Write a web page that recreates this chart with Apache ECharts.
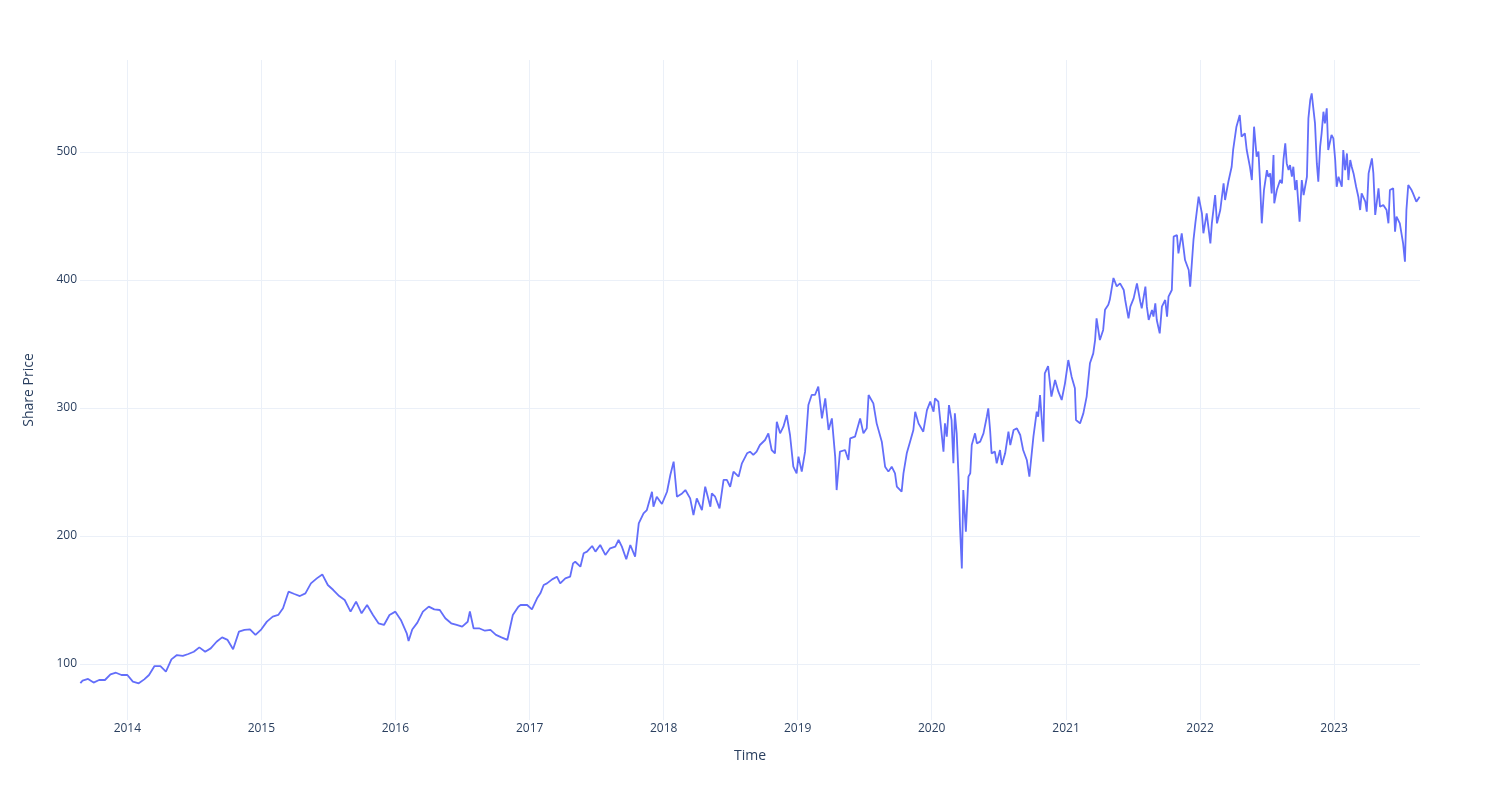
<!DOCTYPE html>
<html>
<head>
<meta charset="utf-8">
<script src="https://cdn.jsdelivr.net/npm/echarts@6/dist/echarts.min.js"></script>
<style>
  html, body { margin: 0; padding: 0; background: #ffffff; }
  #chart { width: 1500px; height: 800px; }
</style>
</head>
<body>
<div id="chart"></div>
<script>
// ---- data ----
const dates = [
  '2013-08-26','2013-09-01','2013-09-16','2013-10-01','2013-10-16','2013-11-01','2013-11-16','2013-12-01','2013-12-16',
  '2014-01-01','2014-01-16','2014-02-01','2014-02-16','2014-03-01','2014-03-16','2014-04-01','2014-04-16','2014-05-01','2014-05-16','2014-06-01','2014-06-16',
  '2014-07-01','2014-07-16','2014-08-01','2014-08-16','2014-09-01','2014-09-16','2014-10-01','2014-10-16','2014-11-01','2014-11-16','2014-12-01','2014-12-16',
  '2015-01-01','2015-01-16','2015-02-01','2015-02-16','2015-03-01','2015-03-16','2015-04-01','2015-04-16','2015-05-01','2015-05-16','2015-06-01','2015-06-16',
  '2015-07-01','2015-07-16','2015-08-01','2015-08-16','2015-09-01','2015-09-16','2015-10-01','2015-10-16','2015-11-01','2015-11-16','2015-12-01','2015-12-16',
  '2016-01-01','2016-01-16','2016-02-01','2016-02-06','2016-02-16','2016-03-01','2016-03-16','2016-04-01','2016-04-16','2016-05-01','2016-05-16','2016-06-01','2016-06-16',
  '2016-07-01','2016-07-16','2016-07-22','2016-08-01','2016-08-16','2016-09-01','2016-09-16','2016-10-01','2016-10-16','2016-11-01','2016-11-16','2016-12-01',
  '2016-12-07','2016-12-25','2017-01-07','2017-01-21','2017-01-30','2017-02-08','2017-02-17','2017-03-03',
  '2017-03-16','2017-03-25','2017-04-08','2017-04-21','2017-04-29','2017-05-05','2017-05-19','2017-05-28',
  '2017-06-06','2017-06-20','2017-06-29','2017-07-12','2017-07-26','2017-08-08','2017-08-22','2017-08-31',
  '2017-09-09','2017-09-21','2017-10-02','2017-10-15','2017-10-25','2017-11-07','2017-11-16','2017-11-30',
  '2017-12-04','2017-12-13','2017-12-27','2018-01-10','2018-01-19','2018-01-28','2018-02-06','2018-02-20',
  '2018-03-01','2018-03-14','2018-03-23','2018-04-01','2018-04-15','2018-04-24','2018-05-08','2018-05-12',
  '2018-05-21','2018-06-02','2018-06-13','2018-06-22','2018-07-01','2018-07-10','2018-07-24','2018-08-02',
  '2018-08-16',
  '2018-08-24','2018-09-02','2018-09-11','2018-09-20','2018-10-04','2018-10-13','2018-10-22','2018-10-31',
  '2018-11-05','2018-11-14','2018-11-23','2018-12-02','2018-12-11','2018-12-20','2018-12-29','2019-01-03',
  '2019-01-12','2019-01-21','2019-01-30','2019-02-08','2019-02-17','2019-02-26','2019-03-08','2019-03-17',
  '2019-03-26','2019-04-04','2019-04-13','2019-04-17','2019-04-26','2019-05-10','2019-05-19','2019-05-24',
  '2019-06-06','2019-06-20','2019-06-29','2019-07-08','2019-07-13','2019-07-26','2019-08-04','2019-08-18',
  '2019-08-27','2019-09-05','2019-09-14','2019-09-23','2019-09-28','2019-10-11','2019-10-16','2019-10-25',
  '2019-11-03','2019-11-12','2019-11-17','2019-11-26','2019-12-09','2019-12-19','2019-12-28','2020-01-06',
  '2020-01-10','2020-01-19',
  '2020-01-24','2020-02-02','2020-02-06','2020-02-11','2020-02-17','2020-02-24','2020-02-29','2020-03-04',
  '2020-03-09','2020-03-14','2020-03-18','2020-03-23','2020-03-27','2020-04-01','2020-04-03','2020-04-10',
  '2020-04-15','2020-04-19','2020-04-28','2020-05-03','2020-05-12','2020-05-21','2020-05-30','2020-06-03',
  '2020-06-08','2020-06-12','2020-06-21','2020-06-26','2020-07-05','2020-07-10','2020-07-19','2020-07-28',
  '2020-08-02','2020-08-11','2020-08-20','2020-08-29','2020-09-06','2020-09-16','2020-09-23','2020-10-04',
  '2020-10-13','2020-10-17','2020-10-22','2020-10-31','2020-11-04','2020-11-13','2020-11-22','2020-12-02',
  '2020-12-11','2020-12-20','2020-12-29','2021-01-07','2021-01-16','2021-01-25','2021-01-28','2021-02-08',
  '2021-02-17','2021-02-26','2021-03-07','2021-03-16','2021-03-21','2021-03-25','2021-04-03','2021-04-12',
  '2021-04-17','2021-04-26','2021-04-30','2021-05-10','2021-05-19',
  '2021-05-28','2021-06-07','2021-06-11','2021-06-20','2021-06-25','2021-07-04','2021-07-13','2021-07-22',
  '2021-07-26','2021-08-05','2021-08-09','2021-08-14','2021-08-23','2021-08-27','2021-09-01','2021-09-05',
  '2021-09-13','2021-09-19','2021-09-28','2021-10-03','2021-10-07','2021-10-16','2021-10-21','2021-10-30',
  '2021-11-03','2021-11-12','2021-11-21','2021-12-01','2021-12-05','2021-12-14','2021-12-19','2021-12-28',
  '2022-01-01','2022-01-06','2022-01-10','2022-01-19','2022-01-29','2022-02-02','2022-02-11','2022-02-16',
  '2022-02-25','2022-03-06','2022-03-10','2022-03-19','2022-03-28','2022-04-01','2022-04-10','2022-04-19',
  '2022-04-24','2022-05-03','2022-05-08','2022-05-17',
  '2022-05-22','2022-05-28','2022-06-04','2022-06-09','2022-06-13','2022-06-18','2022-06-24','2022-07-02',
  '2022-07-06','2022-07-11','2022-07-15','2022-07-20','2022-07-22','2022-07-29','2022-08-07','2022-08-12',
  '2022-08-16','2022-08-21','2022-08-25','2022-08-30','2022-09-03','2022-09-08','2022-09-12','2022-09-17',
  '2022-09-21','2022-09-29','2022-10-05','2022-10-10','2022-10-19','2022-10-23','2022-10-28','2022-11-01',
  '2022-11-06','2022-11-10','2022-11-15','2022-11-19','2022-11-24','2022-11-28','2022-12-03','2022-12-07',
  '2022-12-12','2022-12-16','2022-12-25','2022-12-30','2023-01-04','2023-01-08','2023-01-13','2023-01-17',
  '2023-01-22','2023-01-26','2023-01-31','2023-02-05','2023-02-09','2023-02-14','2023-02-18','2023-02-23',
  '2023-03-02','2023-03-08','2023-03-13','2023-03-17','2023-03-27','2023-03-31','2023-04-05','2023-04-14',
  '2023-04-18','2023-04-23','2023-05-02','2023-05-06','2023-05-15','2023-05-24','2023-05-29','2023-06-02',
  '2023-06-11','2023-06-16','2023-06-20','2023-06-29','2023-07-04','2023-07-08','2023-07-13','2023-07-17',
  '2023-07-22','2023-07-31','2023-08-04','2023-08-13','2023-08-22'
];

const prices = [
  85, 87.0, 88.3, 85.5, 87.5, 87.5, 91.9, 93.2, 91.4,
  91.4, 86.2, 84.9, 88.0, 91.4, 98.4, 98.4, 94.0, 103.6, 107.0, 106.3, 107.8,
  109.6, 113.0, 109.6, 112.2, 117.4, 120.8, 118.8, 111.5, 125.3, 126.6, 127.1, 122.7,
  127.1, 133.1, 137.0, 138.3, 143.5, 156.5, 154.7, 153.1, 155.2, 163.0, 166.9, 170.0,
  161.7, 157.8, 153.1, 150.0, 140.9, 148.7, 139.6, 146.1, 138.3, 131.8, 130.5, 138.3,
  140.9, 134.4, 124, 118, 127, 132.3, 140.9, 144.8, 142.7, 142.2, 135.7, 131.8, 130.5,
  129.2, 133, 141, 127.9, 127.9, 126.0, 126.6, 122.7, 120.8, 118.8, 138.3, 144.8,
  146.1, 146.1, 142.7, 151.3, 155.2, 161.7, 163, 166.1,
  168.2, 163, 166.9, 168.2, 178.6, 179.9, 176, 186.5,
  187.8, 192.2, 187.8, 193, 185.2, 190.4, 191.7, 196.9,
  191.7, 181.8, 193, 183.9, 209.9, 217.7, 220.3, 234.6,
  222.9, 230.7, 225, 234.6, 247.7, 258.1, 230.7, 233.3,
  235.9, 229.4, 216.4, 229.4, 220.3, 238.5, 222.9, 233.3,
  230.7, 221.6, 243.8, 243.8, 238.5, 250.3, 246.4, 256.8,
  264.6,
  265.9, 263.3, 265.9, 271.1, 275, 280.2, 267.2, 264.6,
  289.3, 280.2, 285.4, 294.5, 278.9, 254.2, 249, 262,
  250.3, 265.9, 302.3, 310.2, 310.2, 316.7, 291.9, 307.6,
  282.8, 291.9, 262, 235.9, 265.9, 267.2, 259.4, 276.3,
  277.6, 291.9, 280.2, 284.1, 310.2, 303.6, 288, 273.7,
  254.2, 250.3, 254.2, 249, 238.5, 234.6, 249, 264.6,
  273.7, 282.8, 297.1, 288, 281.5, 298.4, 305, 297.1,
  307.6, 305,
  303.6, 265.9, 288, 277.6, 302.3, 290.6, 256.8, 295.8,
  280.2, 246.4, 207.3, 174.7, 235.9, 212.5, 203.4, 246.4,
  249, 271.1, 280.2, 272.4, 273.7, 280.2, 293.2, 299.7,
  282.8, 264.6, 265.9, 256.8, 267.2, 255.5, 264.6, 281.5,
  271.1, 282.8, 284.1, 278.9, 267.2, 259.4, 246.4, 277.6,
  297.1, 293.2, 310.2, 273.7, 327.1, 332.8, 308.9, 321.9,
  312.8, 306.3, 319.3, 337.5, 324.5, 315.4, 290.6, 288,
  295.8, 308.9, 335, 342.7, 353.1, 370, 353.1, 361,
  376.7, 380.6, 384.5, 401.6, 395,
  397.4, 392.2, 384.4, 370, 379.2, 385.7, 397.4, 383.1,
  377.9, 394.8, 379.2, 368.8, 376.6, 371.4, 381.8, 368.8,
  358.3, 379.2, 384.4, 371.4, 387, 392.2, 433.9, 435.2,
  420.8, 436.5, 415.6, 407.8, 394.8, 431.3, 444.3, 465.1,
  465.1, 452.1, 436.5, 452.1, 428.6, 444.3, 466.4, 444.3,
  454.7, 475.5, 462.5, 476.8, 488.5, 501.6, 519.8, 528.9,
  512, 514.6, 501.6, 488,
  478.1, 519.8, 496.4, 500.3, 478.1, 444.3, 470.3, 485.9,
  480.7, 483.3, 467.7, 497.7, 459.9, 470.3, 478.1, 475.5,
  493.8, 506.8, 491.1, 485.9, 489.8, 480.7, 488.5, 470.3,
  478.1, 445.6, 478.1, 466.4, 480.7, 526.3, 540.6, 545.8,
  532.8, 522.4, 491.1, 476.8, 504.2, 514.6, 531.5, 522.4,
  534.1, 501.6, 513.3, 510.7, 493.8, 472.9, 480.7, 480.7,
  472.9, 501.6, 485.9, 498.9, 478.1, 493.8, 488.5, 483.3,
  472.9, 465.1, 454.7, 467.7, 461.2, 453.4, 483.3, 495,
  483.3, 450.8, 471.6, 457.3, 458.6, 454.7, 444.3, 470.3,
  471.6, 437.8, 449.5, 444.3, 443, 428.6, 414.3, 454.7,
  474.2, 470.3, 467.7, 461.2, 465.1
];

const xTitle = 'Time';
const yTitle = 'Share Price';
const xRange = ['2013-08-25', '2023-08-23'];
const yRange = [56.25, 571.9];

// ---- chart ----
const chart = echarts.init(document.getElementById('chart'), null, { renderer: 'canvas' });
const FONT = '"Open Sans", verdana, arial, sans-serif';
const TEXT = '#2a3f5f';
const GRID = '#EBF0F8';
const YEAR = 365.25 * 24 * 3600 * 1000;

chart.setOption({
  animation: false,
  backgroundColor: '#ffffff',
  textStyle: { fontFamily: FONT },
  grid: { left: 80, right: 80, top: 60, bottom: 80, containLabel: false },
  xAxis: {
    type: 'time',
    min: xRange[0],
    max: xRange[1],
    minInterval: YEAR * 0.99,
    maxInterval: YEAR * 1.01,
    name: xTitle,
    nameLocation: 'middle',
    nameGap: 29,
    nameTextStyle: { color: TEXT, fontSize: 14, fontFamily: FONT },
    axisLine: { show: false },
    axisTick: { show: false },
    axisLabel: {
      color: TEXT, fontSize: 12, fontFamily: FONT, margin: 3,
      formatter: '{yyyy}', showMinLabel: false, showMaxLabel: false
    },
    splitLine: { show: true, showMinLine: false, showMaxLine: false, lineStyle: { color: GRID, width: 1 } }
  },
  yAxis: {
    type: 'value',
    min: yRange[0],
    max: yRange[1],
    minInterval: 100,
    maxInterval: 100,
    name: yTitle,
    nameLocation: 'middle',
    nameGap: 44,
    nameRotate: 90,
    nameTextStyle: { color: TEXT, fontSize: 14, fontFamily: FONT },
    axisLine: { show: false },
    axisTick: { show: false },
    axisLabel: {
      color: TEXT, fontSize: 12, fontFamily: FONT, margin: 3,
      showMinLabel: false, showMaxLabel: false
    },
    splitLine: { show: true, showMinLine: false, showMaxLine: false, lineStyle: { color: GRID, width: 1 } }
  },
  series: [{
    type: 'line',
    data: dates.map((d, i) => [d, prices[i]]),
    showSymbol: false,
    symbol: 'none',
    lineStyle: { color: '#636efa', width: 1.8 },
    itemStyle: { color: '#636efa' }
  }]
});
</script>
</body>
</html>
